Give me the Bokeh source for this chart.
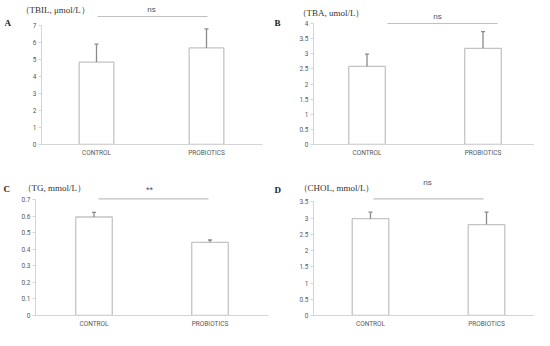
from bokeh.plotting import figure
from bokeh.models import FixedTicker, Label, ColumnDataSource, GridBox, Range1d
from bokeh.layouts import column
from bokeh.core.properties import value
from bokeh.embed import file_html
from bokeh.resources import INLINE

# ---------------- data ----------------
groups = ["CONTROL", "PROBIOTICS"]

tbil_mean = [4.85, 5.68]
tbil_err = [1.05, 1.12]

tba_mean = [2.58, 3.18]
tba_err = [0.41, 0.55]

tg_mean = [0.596, 0.443]
tg_err = [0.028, 0.014]

chol_mean = [2.98, 2.80]
chol_err = [0.20, 0.38]

titles = ["（TBIL, μmol/L）", "（TBA, umol/L）", "（TG, mmol/L）", "（CHOL, mmol/L）"]
letters = ["A", "B", "C", "D"]
sig_marks = ["ns", "ns", "**", "ns"]
y_max = [7, 4, 0.7, 3.5]
y_step = [1, 0.5, 0.1, 0.5]

# ---------------- layout geometry (pixels inside each figure) ----------------
# L/R: frame left/right, B: x-axis row, ytop: pixel row of the top tick,
# c1/c2: pixel centres of the two bars, sig: significance bar (x0, x1, y), mark: (x, y)
geo = [
    dict(W=270, H=166, L=41, R=262, B=144, ytop=25, c1=96, c2=206,
         sig=(97, 207, 16), mark=(151, 9)),
    dict(W=264, H=166, L=43, R=264, B=144, ytop=23, c1=96.5, c2=212.5,
         sig=(117, 227, 23), mark=(167, 16)),
    dict(W=270, H=164, L=35, R=268, B=152, ytop=34, c1=93.5, c2=209.5,
         sig=(98, 208, 33), mark=(149, 24)),
    dict(W=264, H=164, L=43, R=264, B=152, ytop=36, c1=100, c2=216,
         sig=(103, 213, 33), mark=(157, 16)),
]
# title / letter positions on the whole page area (x left, y middle)
title_pos = [(20, 9), (297, 12), (22, 187), (298, 187)]
letter_pos = [(4, 22), (274, 22), (3, 188), (274, 189)]

means = [tbil_mean, tba_mean, tg_mean, chol_mean]
errs = [tbil_err, tba_err, tg_err, chol_err]

BAR_LINE = "#c4c4c4"
ERR = "#8a8a8a"
AXIS = "#d4d4d4"
TICK_TXT = "#595959"


def make_panel(i):
    g = geo[i]
    ymax = y_max[i]
    scale = (g["B"] - g["ytop"]) / ymax
    top = g["B"] / scale
    upx = g["c2"] - g["c1"]                      # pixels per x unit
    x0 = 1 - (g["c1"] - g["L"]) / upx
    x1 = x0 + (g["R"] - g["L"]) / upx

    def px2x(px):
        return x0 + (px - g["L"]) / upx

    def py2y(py):
        return (g["B"] - py) / scale

    p = figure(width=g["W"], height=g["H"], x_range=Range1d(x0, x1), y_range=Range1d(0, top),
               output_backend="svg", toolbar_location=None, title=None,
               min_border_left=g["L"], min_border_right=g["W"] - g["R"],
               min_border_top=0, min_border_bottom=g["H"] - g["B"])
    p.outline_line_color = None
    p.grid.visible = False
    p.background_fill_color = "white"
    p.border_fill_color = "white"

    xs = [1, 2]
    m = means[i]
    e = errs[i]
    tops = [a + b for a, b in zip(m, e)]
    src = ColumnDataSource(dict(x=xs, m=m, t=tops))

    p.vbar(x="x", top="m", bottom=0, width=0.315, source=src,
           fill_color="white", line_color=BAR_LINE, line_width=1.3)
    p.segment(x0="x", y0="m", x1="x", y1="t", source=src, line_color=ERR, line_width=1.3)
    p.scatter(x="x", y="t", source=src, marker="dash", size=4, line_color=ERR, line_width=1.3)

    # significance bar
    sx0, sx1, spy = g["sig"]
    sy = py2y(spy)
    p.segment(x0=[px2x(sx0)], y0=[sy], x1=[px2x(sx1)], y1=[sy],
              line_color="#c0c0c0", line_width=1.2)
    mx, my = g["mark"]
    p.add_layout(Label(x=px2x(mx), y=py2y(my), text=sig_marks[i], text_align="center",
                       text_baseline="middle",
                       text_font_size="9px" if sig_marks[i] == "**" else "8px",
                       text_font="Liberation Sans", text_color="#44546a"))

    # axes
    n = int(round(ymax / y_step[i]))
    ticks = [round(k * y_step[i], 3) for k in range(n + 1)]
    p.yaxis.ticker = FixedTicker(ticks=ticks)
    p.yaxis.major_label_overrides = {t: f"{t:g}" for t in ticks}
    p.yaxis.bounds = (0, ymax)
    p.yaxis.minor_tick_line_color = None
    p.yaxis.major_tick_out = 3
    p.yaxis.major_tick_in = 0
    p.yaxis.major_tick_line_color = AXIS
    p.yaxis.axis_line_color = AXIS
    p.yaxis.major_label_standoff = 2
    p.yaxis.major_label_text_font_size = "6.5px"
    p.yaxis.major_label_text_font = "Roboto"
    p.yaxis.major_label_text_color = TICK_TXT

    p.xaxis.ticker = FixedTicker(ticks=xs)
    p.xaxis.major_label_overrides = {1: groups[0], 2: groups[1]}
    p.xaxis.minor_tick_line_color = None
    p.xaxis.major_tick_line_color = None
    p.xaxis.major_tick_out = 0
    p.xaxis.major_tick_in = 0
    p.xaxis.axis_line_color = AXIS
    p.xaxis.major_label_standoff = 4
    p.xaxis.major_label_text_font_size = "6.5px"
    p.xaxis.major_label_text_font = "Roboto"
    p.xaxis.major_label_text_color = TICK_TXT
    return p


panels = [make_panel(i) for i in range(4)]

# transparent overlay carrying the panel titles and letters
TOT_W, TOT_H = 534, 330
ov = figure(width=TOT_W, height=TOT_H, x_range=Range1d(0, TOT_W), y_range=Range1d(TOT_H, 0),
            output_backend="svg", toolbar_location=None, title=None,
            x_axis_type=None, y_axis_type=None,
            min_border=0, min_border_left=0, min_border_right=0,
            min_border_top=0, min_border_bottom=0)
ov.outline_line_color = None
ov.grid.visible = False
ov.background_fill_color = None
ov.border_fill_color = None
ov.text(x=[t[0] for t in title_pos], y=[t[1] for t in title_pos], text=titles,
        text_align="left", text_baseline="middle", text_font_size="9px",
        text_font=value("Liberation Serif"), text_color="#333333")
ov.text(x=[t[0] for t in letter_pos], y=[t[1] for t in letter_pos], text=letters,
        text_align="left", text_baseline="middle", text_font_size="9px",
        text_font_style="bold", text_font=value("Liberation Serif"), text_color="#222222")

layout = GridBox(children=[
    (column(panels[0]), 0, 0), (column(panels[1]), 0, 1),
    (column(panels[2]), 1, 0), (column(panels[3]), 1, 1),
    (column(ov), 0, 0, 2, 2),
])

open("out.html", "w").write(file_html(layout, INLINE))
